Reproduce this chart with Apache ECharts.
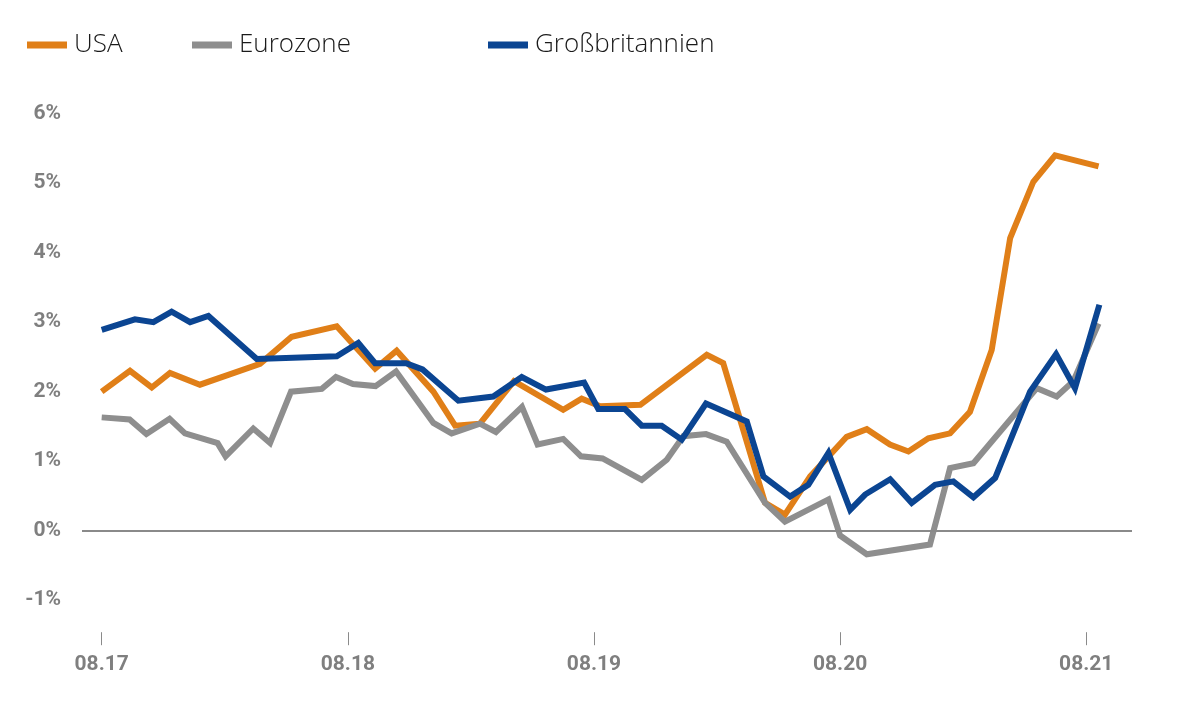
<!DOCTYPE html>
<html>
<head>
<meta charset="utf-8">
<script src="https://cdn.jsdelivr.net/npm/echarts@6/dist/echarts.min.js"></script>
<style>
  html, body { margin: 0; padding: 0; background: #ffffff; }
  #chart { width: 1192px; height: 706px; }
</style>
</head>
<body>
<div id="chart"></div>
<script>
// x = months since 08.2017, y = inflation rate in %
const seriesNames = ['USA', 'Eurozone', 'Großbritannien'];
const tickMonths = [0, 12, 24, 36, 48];
const tickLabels = ['08.17', '08.18', '08.19', '08.20', '08.21'];
const yTicks = [-1, 0, 1, 2, 3, 4, 5, 6];

const usa = [
  [0, 2.0], [1.38, 2.30], [2.44, 2.06], [3.33, 2.27], [4.79, 2.10], [7.72, 2.40],
  [9.26, 2.79], [11.46, 2.94], [13.33, 2.33], [14.38, 2.59], [16.17, 2.00], [17.23, 1.51],
  [18.44, 1.54], [20.1, 2.15], [22.5, 1.74], [23.4, 1.90], [24.3, 1.79], [26.26, 1.81],
  [29.5, 2.53], [30.3, 2.41], [32.34, 0.40], [33.31, 0.23], [34.54, 0.78], [36.32, 1.35],
  [37.3, 1.46], [38.43, 1.24], [39.33, 1.14], [40.3, 1.33], [41.36, 1.40], [42.33, 1.71],
  [43.39, 2.60], [44.29, 4.21], [45.42, 5.02], [46.48, 5.40], [48.6, 5.24]
];

const eurozone = [
  [0, 1.63], [1.36, 1.60], [2.18, 1.39], [3.31, 1.61], [4.06, 1.40], [5.65, 1.26],
  [6.04, 1.07], [7.39, 1.47], [8.21, 1.26], [9.23, 2.00], [10.73, 2.04], [11.42, 2.21],
  [12.25, 2.11], [13.35, 2.08], [14.35, 2.29], [16.17, 1.55], [17.06, 1.40], [18.44, 1.54],
  [19.22, 1.42], [20.49, 1.78], [21.25, 1.24], [22.5, 1.32], [23.37, 1.07], [24.42, 1.04],
  [26.33, 0.73], [27.55, 1.02], [28.36, 1.36], [29.46, 1.39], [30.47, 1.28], [32.34, 0.40],
  [33.31, 0.13], [35.43, 0.45], [36.0, -0.07], [37.3, -0.34], [40.38, -0.20], [41.36, 0.90],
  [42.5, 0.97], [45.59, 2.05], [46.56, 1.93], [47.37, 2.15], [48.6, 2.98]
];

const uk = [
  [0, 2.89], [1.62, 3.04], [2.52, 3.00], [3.41, 3.15], [4.31, 3.00], [5.2, 3.09],
  [7.56, 2.47], [11.46, 2.51], [12.51, 2.70], [13.33, 2.41], [14.84, 2.41], [15.64, 2.32],
  [17.39, 1.87], [19.09, 1.93], [20.48, 2.21], [21.66, 2.03], [23.52, 2.13], [24.21, 1.75],
  [25.51, 1.75], [26.33, 1.51], [27.3, 1.51], [28.28, 1.31], [29.46, 1.83], [31.45, 1.57],
  [32.26, 0.78], [33.56, 0.49], [34.45, 0.66], [35.43, 1.12], [36.49, 0.30], [37.22, 0.52],
  [38.44, 0.74], [39.49, 0.40], [40.63, 0.66], [41.52, 0.71], [42.5, 0.48], [43.56, 0.76],
  [45.26, 2.00], [46.53, 2.54], [47.45, 2.05], [48.64, 3.25]
];

const colors = ['#E07F18', '#8E8E8E', '#0B4592'];

const chart = echarts.init(document.getElementById('chart'), null, { renderer: 'canvas' });

const legendText = { fontFamily: 'Open Sans', fontWeight: 300, fontSize: 26, color: '#1a1a1a', padding: [0, 0, 0, 2] };
function legendAt(name, left) {
  return {
    data: [name], left: left, top: 27, icon: 'rect', itemWidth: 40, itemHeight: 7,
    textStyle: legendText, selectedMode: false
  };
}

const option = {
  animation: false,
  backgroundColor: '#ffffff',
  color: colors,
  legend: [
    legendAt(seriesNames[0], 22),
    legendAt(seriesNames[1], 187),
    legendAt(seriesNames[2], 483)
  ],
  grid: { left: 82, right: 60, top: 113.6, bottom: 105.8 },
  xAxis: {
    type: 'value',
    min: -0.96,
    max: 50.23,
    offset: 32,
    axisLine: { show: false, onZero: false },
    splitLine: { show: false },
    axisTick: {
      show: true, customValues: tickMonths, length: 13,
      lineStyle: { color: '#8a8a8a', width: 1 }
    },
    axisLabel: {
      customValues: tickMonths,
      formatter: function (v) { return tickLabels[tickMonths.indexOf(Math.round(v))] || ''; },
      fontFamily: 'Roboto', fontWeight: 'bold', fontSize: 21, color: '#7f7f7f', margin: 22
    }
  },
  yAxis: {
    type: 'value',
    min: yTicks[0],
    max: yTicks[yTicks.length - 1],
    interval: 1,
    axisLine: { show: false },
    axisTick: { show: false },
    splitLine: { show: false },
    axisLabel: {
      formatter: function (v) { return v + '%'; },
      fontFamily: 'Roboto', fontWeight: 'bold', fontSize: 21, color: '#7f7f7f', margin: 21
    }
  },
  series: [
    {
      name: seriesNames[0], type: 'line', data: usa, symbol: 'none', z: 3,
      lineStyle: { width: 6, color: colors[0], cap: 'butt', join: 'miter' },
      markLine: {
        silent: true, symbol: 'none', label: { show: false },
        lineStyle: { color: '#8a8a8a', width: 2, type: 'solid' },
        data: [{ yAxis: 0 }]
      }
    },
    {
      name: seriesNames[1], type: 'line', data: eurozone, symbol: 'none', z: 4,
      lineStyle: { width: 6, color: colors[1], cap: 'butt', join: 'miter' }
    },
    {
      name: seriesNames[2], type: 'line', data: uk, symbol: 'none', z: 5,
      lineStyle: { width: 6, color: colors[2], cap: 'butt', join: 'miter' }
    }
  ]
};

chart.setOption(option);
</script>
</body>
</html>
